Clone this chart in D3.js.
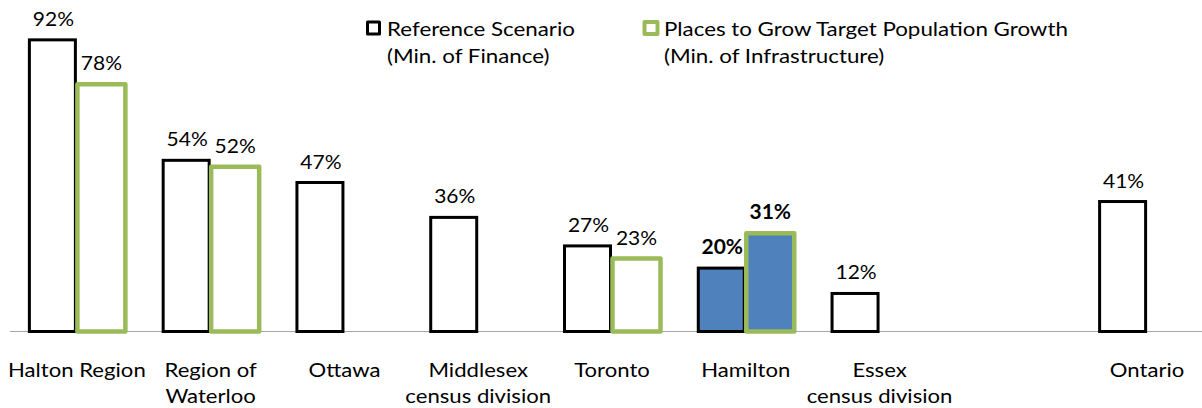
<!DOCTYPE html>
<html>
<head>
<meta charset="utf-8">
<script src="https://cdn.jsdelivr.net/npm/d3@7"></script>
<style>
  html, body { margin: 0; padding: 0; background: #fff; }
  svg { display: block; }
  text { font-family: Lato, "Open Sans", sans-serif; fill: #000; }
</style>
</head>
<body>
<div id="chart"></div>
<script>
const categories = ["Halton Region", "Region of\nWaterloo", "Ottawa", "Middlesex\ncensus division", "Toronto", "Hamilton", "Essex\ncensus division", "", "Ontario"];
const referenceValues = [92, 54, 47, 36, 27, 20, 12, null, 41];
const placesValues = [78, 52, null, null, 23, 31, null, null, null];
const highlighted = ["Hamilton"];
const seriesNames = [["Reference Scenario", "(Min. of Finance)"], ["Places to Grow Target Population Growth", "(Min. of Infrastructure)"]];

const W = 1202, H = 408;
const svg = d3.select("#chart").append("svg").attr("width", W).attr("height", H);

const x = d3.scaleBand().domain(d3.range(categories.length)).range([10, 1214]).padding(0);
const y = d3.scaleLinear().domain([0, 100]).range([331.5, 14.5]);

const green = "#9BBB59", blue = "#4F81BD";
const barW = 48;
const TEXT_SX = 1.165;

function stretchedText(parent, px, py, lines, opts) {
  const g = parent.append("g").attr("transform", `translate(${px},${py}) scale(${opts.sx || TEXT_SX},1)`);
  const t = g.append("text").attr("text-anchor", opts.anchor || "middle")
    .attr("font-size", opts.size || 19).attr("font-weight", opts.weight || "normal");
  lines.forEach((line, k) => {
    t.append("tspan").attr("x", 0).attr("y", k * (opts.lh || 27)).text(line);
  });
  return g;
}

// baseline
svg.append("line").attr("x1", 10).attr("x2", W).attr("y1", y(0)).attr("y2", y(0))
  .attr("stroke", "#a6a6a6").attr("stroke-width", 1.2);

const center = i => x(i) + x.bandwidth() / 2;

// reference bars
categories.forEach((c, i) => {
  const v = referenceValues[i];
  if (v == null) return;
  const hl = highlighted.includes(c);
  svg.append("rect")
    .attr("x", center(i) - barW + 0.5).attr("y", y(v))
    .attr("width", barW - 2).attr("height", y(0) - y(v))
    .attr("fill", hl ? blue : "#fff").attr("stroke", "#000").attr("stroke-width", 3);
  stretchedText(svg, center(i) - barW / 2 + 0.5, y(v) - 14, [v + "%"],
    { size: 20, sx: 1.05, weight: hl ? "bold" : "normal" });
});

// places bars
categories.forEach((c, i) => {
  const v = placesValues[i];
  if (v == null) return;
  const hl = highlighted.includes(c);
  svg.append("rect")
    .attr("x", center(i) + 0.5).attr("y", y(v))
    .attr("width", barW).attr("height", y(0) - y(v))
    .attr("fill", hl ? blue : "#fff").attr("stroke", green).attr("stroke-width", 4.5)
    .attr("stroke-linejoin", "round");
  stretchedText(svg, center(i) + barW / 2 + 0.5, y(v) - 14, [v + "%"],
    { size: 20, sx: 1.05, weight: hl ? "bold" : "normal" });
});

// category labels
categories.forEach((c, i) => {
  if (!c) return;
  stretchedText(svg, center(i), 376.5, c.split("\n"), { size: 19 });
});

// legend
const legendX = [366, 643];
seriesNames.forEach((lines, k) => {
  const lx = legendX[k];
  svg.append("rect").attr("x", lx + 1.5).attr("y", 22).attr("width", k === 0 ? 12 : 13).attr("height", 12)
    .attr("fill", "#fff").attr("stroke", k === 0 ? "#000" : green).attr("stroke-width", k === 0 ? 3 : 4)
    .attr("stroke-linejoin", "round");
  stretchedText(svg, lx + 21, 36, lines, { size: 19, anchor: "start", sx: 1.175 });
});
</script>
</body>
</html>
